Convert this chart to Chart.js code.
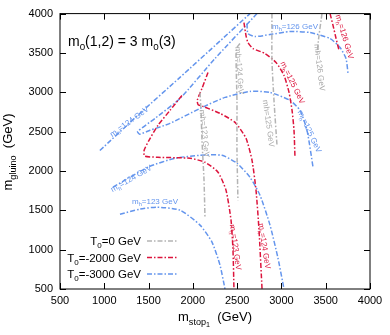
<!DOCTYPE html>
<html>
<head>
<meta charset="utf-8">
<script src="https://cdn.jsdelivr.net/npm/chart.js@4.4.0/dist/chart.umd.min.js"></script>
<style>
  html, body { margin: 0; padding: 0; background: #fff; }
</style>
</head>
<body>
<canvas id="chart" width="390" height="335"></canvas>
<script>
const xTicks = [500, 1000, 1500, 2000, 2500, 3000, 3500, 4000];
const yTicks = [500, 1000, 1500, 2000, 2500, 3000, 3500, 4000];

// T0 = 0 GeV (gray)
const gray123 = [[2081, 2998], [2092, 2770], [2103, 2390], [2126, 1882], [2137, 1400]];
const gray124 = [[2532, 3620], [2498, 3569], [2487, 3467], [2498, 2897], [2498, 2263], [2509, 1629]];
const gray125 = [[2893, 4000], [2893, 3404], [2916, 2897], [2950, 2326]];
const gray126 = [[3458, 4000], [3424, 3721], [3402, 3493]];

// T0 = -2000 GeV (red)
const red123 = [[1877, 2960], [1742, 2770], [1606, 2580], [1505, 2390], [1450, 2263], [1455, 2190],
  [1606, 2174], [1968, 2161], [2137, 2111], [2284, 1984], [2374, 1756], [2431, 1375], [2453, 995], [2464, 500]];
const red124 = [[2171, 3252], [2103, 3049], [2050, 2900], [2060, 2842], [2114, 2821], [2306, 2732],
  [2476, 2618], [2600, 2415], [2668, 2136], [2713, 1756], [2747, 1248], [2781, 500]];
const red125 = [[2577, 3886], [2600, 3721], [2622, 3632], [2679, 3556], [2814, 3493], [2939, 3379],
  [3029, 3214], [3086, 2998], [3120, 2770], [3142, 2516], [3153, 2174]];
const red126 = [[3549, 4000], [3583, 3848], [3617, 3683], [3651, 3531]];

// T0 = -3000 GeV (blue)
const blue124a = [[950, 2260], [1400, 2730], [1855, 3190], [2305, 3650], [2645, 4000]];
const blue125 = [[2724, 4000], [2250, 3429], [1855, 2922], [1573, 2669], [1375, 2500], [1400, 2468],
  [1516, 2517], [1742, 2605], [2081, 2795], [2363, 2935], [2645, 3011], [2871, 2998], [3097, 2897],
  [3210, 2770], [3289, 2516], [3357, 2047]];
const blue124b = [[1098, 1794], [1290, 1920], [1516, 2060], [1798, 2161], [2081, 2199], [2329, 2199],
  [2498, 2098], [2645, 1920], [2758, 1692], [2871, 1312], [2961, 893], [3029, 500]];
const blue123 = [[1177, 1451], [1403, 1515], [1595, 1540], [1855, 1502], [2081, 1312], [2216, 1096],
  [2306, 805], [2363, 500]];
const blue126 = [[2611, 3873], [2622, 3746], [2701, 3708], [2871, 3734], [3097, 3772], [3323, 3759],
  [3549, 3683], [3662, 3569], [3729, 3429], [3752, 3239]];

const GRAY = 'rgb(180,180,180)';
const RED = 'rgb(220,20,60)';
const BLUE = 'rgb(100,149,237)';
const DASH = [5, 2, 1.5, 2];
const FONT = "'Liberation Sans', Arial, sans-serif";

const legendItems = [
  { parts: [['T', 0], ['0', 1], ['=0 GeV', 0]], color: GRAY },
  { parts: [['T', 0], ['0', 1], ['=-2000 GeV', 0]], color: RED },
  { parts: [['T', 0], ['0', 1], ['=-3000 GeV', 0]], color: BLUE },
];

// curve labels: text, where it sits (data coords), rotation in degrees
const curveLabels = [
  { parts: [['m', 0], ['h', 1], ['=124 GeV', 0]], x: 1279, y: 2631, rot: -36, color: BLUE },
  { parts: [['m', 0], ['h', 1], ['=124 GeV', 0]], x: 1302, y: 1908, rot: -30, color: BLUE },
  { parts: [['m', 0], ['h', 1], ['=123 GeV', 0]], x: 1573, y: 1616, rot: 0, color: BLUE },
  { parts: [['m', 0], ['h', 1], ['=126 GeV', 0]], x: 3153, y: 3848, rot: 0, color: BLUE },
  { parts: [['m', 0], ['h', 1], ['=125 GeV', 0]], x: 3323, y: 2504, rot: 65, color: BLUE },
  { parts: [['m', 0], ['h', 1], ['=125 GeV', 0]], x: 3131, y: 3125, rot: 64, color: RED },
  { parts: [['m', 0], ['h', 1], ['=126 GeV', 0]], x: 3718, y: 3708, rot: 73, color: RED },
  { parts: [['m', 0], ['h', 1], ['=123 GeV', 0]], x: 2487, y: 1033, rot: 82, color: RED },
  { parts: [['m', 0], ['h', 1], ['=124 GeV', 0]], x: 2814, y: 1046, rot: 81, color: RED },
  { parts: [['mh=123 GeV', 0]], x: 2137, y: 2478, rot: 84, color: 'rgb(170,170,170)' },
  { parts: [['mh=124 GeV', 0]], x: 2532, y: 3277, rot: 86, color: 'rgb(170,170,170)' },
  { parts: [['mh=125 GeV', 0]], x: 2860, y: 2605, rot: 82, color: 'rgb(170,170,170)' },
  { parts: [['mh=126 GeV', 0]], x: 3436, y: 3315, rot: 83, color: 'rgb(170,170,170)' },
];

const toPts = arr => arr.map(([x, y]) => ({ x, y }));

function curve(data, color) {
  return {
    data: toPts(data),
    showLine: true,
    borderColor: color,
    backgroundColor: color,
    borderWidth: 1.5,
    borderDash: DASH,
    pointRadius: 0,
    tension: 0.2,
  };
}

// text with sub/subsub scripts, parts = [[text, level]]
function partFont(size, lvl) {
  const s = lvl === 0 ? size : lvl === 1 ? size * 0.7 : size * 0.55;
  return s.toFixed(1) + 'px ' + FONT;
}
function richWidth(ctx, parts, size) {
  let w = 0;
  parts.forEach(([t, lvl]) => { ctx.font = partFont(size, lvl); w += ctx.measureText(t).width; });
  return w;
}
function drawRich(ctx, parts, x, y, size, align) {
  const w = richWidth(ctx, parts, size);
  let cx = align === 'right' ? x - w : align === 'center' ? x - w / 2 : x;
  parts.forEach(([t, lvl]) => {
    ctx.font = partFont(size, lvl);
    const dy = lvl === 0 ? 0 : lvl === 1 ? size * 0.28 : size * 0.45;
    ctx.fillText(t, cx, y + dy);
    cx += ctx.measureText(t).width;
  });
}

const decor = {
  id: 'decor',
  afterDraw(chart) {
    const { ctx, chartArea: a, scales: { x, y } } = chart;
    ctx.save();
    ctx.textBaseline = 'alphabetic';

    // curve labels
    curveLabels.forEach(l => {
      ctx.save();
      ctx.translate(x.getPixelForValue(l.x), y.getPixelForValue(l.y));
      ctx.rotate(l.rot * Math.PI / 180);
      ctx.fillStyle = l.color;
      drawRich(ctx, l.parts, 0, 3, 8, 'center');
      ctx.restore();
    });

    // frame and inward ticks
    ctx.strokeStyle = '#000';
    ctx.lineWidth = 1;
    ctx.setLineDash([]);
    ctx.strokeRect(a.left, a.top, a.right - a.left, a.bottom - a.top);
    ctx.beginPath();
    xTicks.forEach(v => {
      const px = Math.round(x.getPixelForValue(v)) + 0.5;
      ctx.moveTo(px, a.bottom); ctx.lineTo(px, a.bottom - 6);
      ctx.moveTo(px, a.top); ctx.lineTo(px, a.top + 6);
    });
    yTicks.forEach(v => {
      const py = Math.round(y.getPixelForValue(v)) + 0.5;
      ctx.moveTo(a.left, py); ctx.lineTo(a.left + 6, py);
      ctx.moveTo(a.right, py); ctx.lineTo(a.right - 6, py);
    });
    ctx.stroke();

    ctx.fillStyle = '#000';
    // inner title
    drawRich(ctx, [['m', 0], ['0', 1], ['(1,2) = 3 m', 0], ['0', 1], ['(3)', 0]], a.left + 8, 46, 14, 'left');

    // legend
    legendItems.forEach((it, i) => {
      const ry = 241 + i * 16.5;
      ctx.fillStyle = '#000';
      drawRich(ctx, it.parts, 141, ry + 4, 11.5, 'right');
      ctx.strokeStyle = it.color;
      ctx.lineWidth = 1.5;
      ctx.setLineDash(DASH);
      ctx.beginPath();
      ctx.moveTo(147, ry); ctx.lineTo(177, ry);
      ctx.stroke();
    });
    ctx.setLineDash([]);

    // axis titles
    ctx.fillStyle = '#000';
    drawRich(ctx, [['m', 0], ['stop', 1], ['1', 2], ['  (GeV)', 0]], 215, 321, 13, 'center');
    ctx.save();
    ctx.translate(12, 152);
    ctx.rotate(-Math.PI / 2);
    drawRich(ctx, [['m', 0], ['gluino', 1], ['  (GeV)', 0]], 0, 0, 13, 'center');
    ctx.restore();

    ctx.restore();
  }
};

const tickFont = { family: FONT, size: 11 };
const plain = v => String(v);

new Chart(document.querySelector('#chart'), {
  type: 'scatter',
  data: {
    datasets: [
      curve(gray123, GRAY), curve(gray124, GRAY), curve(gray125, GRAY), curve(gray126, GRAY),
      curve(red123, RED), curve(red124, RED), curve(red125, RED), curve(red126, RED),
      curve(blue124a, BLUE), curve(blue125, BLUE), curve(blue124b, BLUE), curve(blue123, BLUE), curve(blue126, BLUE),
    ]
  },
  options: {
    responsive: false,
    animation: false,
    devicePixelRatio: 1,
    layout: { padding: { top: 13, right: 20, left: 0, bottom: 0 } },
    plugins: { legend: { display: false }, tooltip: { enabled: false } },
    scales: {
      x: {
        type: 'linear', min: 500, max: 4000,
        afterBuildTicks: s => { s.ticks = xTicks.map(v => ({ value: v })); },
        afterFit: s => { s.height = 46; },
        grid: { display: false, drawTicks: false },
        border: { display: false },
        ticks: { font: tickFont, color: '#000', padding: 5, maxRotation: 0, callback: plain },
      },
      y: {
        type: 'linear', min: 500, max: 4000,
        afterBuildTicks: s => { s.ticks = yTicks.map(v => ({ value: v })); },
        afterFit: s => { s.width = 60; },
        grid: { display: false, drawTicks: false },
        border: { display: false },
        ticks: { font: tickFont, color: '#000', padding: 7, callback: plain },
      }
    }
  },
  plugins: [decor]
});
</script>
</body>
</html>
